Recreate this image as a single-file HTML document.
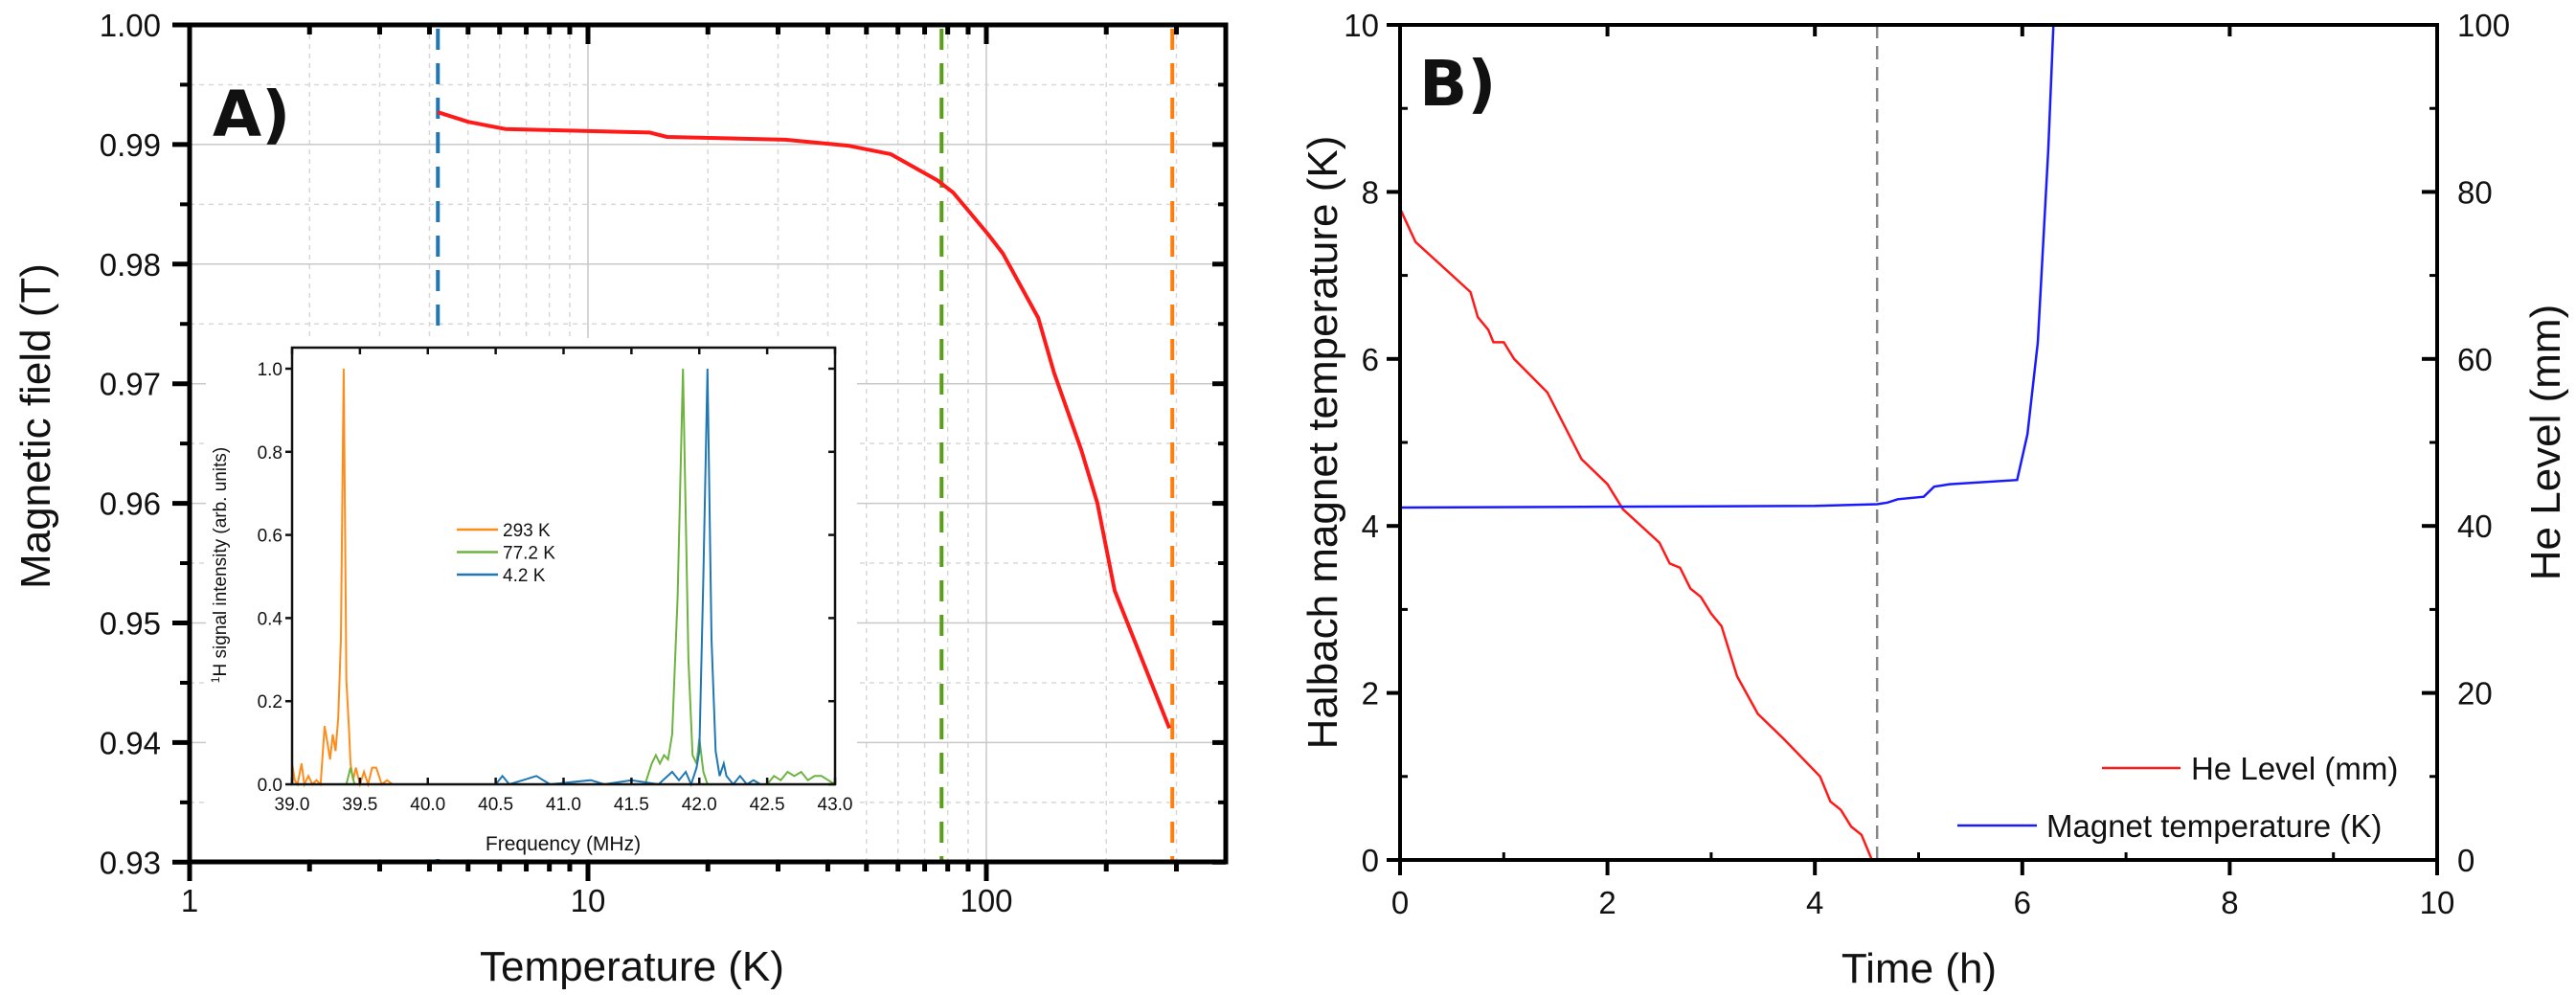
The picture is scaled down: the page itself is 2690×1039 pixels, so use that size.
<!DOCTYPE html>
<html><head><meta charset="utf-8"><style>
html,body{margin:0;padding:0;background:#fff}
svg{display:block}
text{font-family:"Liberation Sans",Arial,sans-serif;fill:#111}
</style></head><body>
<svg id="fig" width="2690" height="1039" viewBox="0 0 2690 1039" xmlns="http://www.w3.org/2000/svg">
<g id="pa"></g>
<g id="pb"></g>
</svg>
<script>
// ---------- Panel A data ----------
const aTemps = [4.2, 5, 6.2, 9.25, 14.3, 15.8, 31.3, 45, 57.5, 75.4, 82.5, 101, 110, 135, 148, 173, 190, 210, 288];
const aField = [0.9927, 0.9919, 0.9913, 0.99115, 0.9910, 0.99063, 0.9904, 0.9899, 0.9892, 0.9870, 0.9860, 0.9825, 0.9809, 0.9755, 0.9709, 0.9645, 0.9600, 0.9527, 0.9412];
const aMarkerTemps = [4.2, 77.2, 293];
const aMarkerColors = ['#1f77b4', '#5a9e1a', '#ff7f0e'];
const aYTicks = [1.00, 0.99, 0.98, 0.97, 0.96, 0.95, 0.94, 0.93];
const aYTickLabels = ['1.00', '0.99', '0.98', '0.97', '0.96', '0.95', '0.94', '0.93'];
const aXTicks = [1, 10, 100];
const aXTickLabels = ['1', '10', '100'];
// inset spectra
const insetXTicks = [39.0, 39.5, 40.0, 40.5, 41.0, 41.5, 42.0, 42.5, 43.0];
const insetYTicks = [0.0, 0.2, 0.4, 0.6, 0.8, 1.0];
const s293f = [39.0, 39.02, 39.04, 39.07, 39.09, 39.12, 39.15, 39.18, 39.21, 39.24, 39.26, 39.28, 39.3, 39.32, 39.34, 39.36, 39.38, 39.40, 39.42, 39.43, 39.45, 39.47, 39.5, 39.53, 39.56, 39.59, 39.62, 39.66, 39.7, 39.74];
const s293i = [0.05, 0.01, 0.0, 0.05, 0.0, 0.02, 0.0, 0.01, 0.0, 0.14, 0.10, 0.06, 0.12, 0.08, 0.16, 0.35, 1.0, 0.25, 0.13, 0.05, 0.01, 0.04, 0.0, 0.03, 0.0, 0.04, 0.04, 0.0, 0.01, 0.0];
const s77f = [39.4, 39.43, 39.46, 39.5, 41.6, 41.65, 41.68, 41.71, 41.74, 41.77, 41.8, 41.84, 41.88, 41.92, 41.95, 41.98, 42.0, 42.03, 42.06, 42.5, 42.55, 42.6, 42.65, 42.7, 42.75, 42.8, 42.85, 42.9, 42.95, 43.0];
const s77i = [0.0, 0.04, 0.0, 0.0, 0.0, 0.05, 0.07, 0.05, 0.07, 0.06, 0.12, 0.45, 1.0, 0.3, 0.07, 0.05, 0.11, 0.03, 0.0, 0.0, 0.02, 0.01, 0.03, 0.02, 0.03, 0.01, 0.02, 0.02, 0.01, 0.0];
const s42f = [40.5, 40.55, 40.6, 40.7, 40.8, 40.9, 41.2, 41.3, 41.5, 41.7, 41.8, 41.85, 41.9, 41.94, 41.98, 42.0, 42.03, 42.06, 42.09, 42.12, 42.15, 42.18, 42.2, 42.25, 42.3, 42.35, 42.4, 42.45, 42.5, 43.0];
const s42i = [0.0, 0.02, 0.0, 0.01, 0.02, 0.0, 0.01, 0.0, 0.01, 0.0, 0.03, 0.01, 0.03, 0.0, 0.04, 0.08, 0.5, 1.0, 0.35, 0.08, 0.02, 0.05, 0.02, 0.0, 0.02, 0.0, 0.01, 0.0, 0.0, 0.0];
const insetLegend = ['293 K', '77.2 K', '4.2 K'];
// ---------- Panel B data ----------
const heTime = [0, 0.15, 0.68, 0.75, 0.85, 0.9, 1.0, 1.1, 1.42, 1.75, 2.0, 2.15, 2.5, 2.6, 2.7, 2.8, 2.9, 3.0, 3.1, 3.25, 3.45, 3.7, 4.05, 4.15, 4.25, 4.35, 4.45, 4.55];
const heLevel = [78, 74, 68, 65, 63.5, 62, 62, 60, 56, 48, 45, 42, 38, 35.5, 35, 32.5, 31.5, 29.5, 28, 22, 17.5, 14.5, 10, 7, 6, 4, 3, 0];
const mtTime = [0, 2, 4, 4.6, 4.7, 4.8, 5.05, 5.15, 5.3, 5.95, 6.05, 6.15, 6.25, 6.3];
const mtTemp = [4.22, 4.23, 4.24, 4.26, 4.28, 4.32, 4.35, 4.47, 4.5, 4.55, 5.1, 6.2, 8.5, 10];
const bDashedTime = 4.6;
const bXTicks = [0, 2, 4, 6, 8, 10];
const bYTicks = [0, 2, 4, 6, 8, 10];
const bY2Ticks = [0, 20, 40, 60, 80, 100];

const NS = 'http://www.w3.org/2000/svg';
function mk(parent, tag, attrs, txt) {
  const e = document.createElementNS(NS, tag);
  for (const k in attrs) e.setAttribute(k, attrs[k]);
  if (txt !== undefined) e.textContent = txt;
  parent.appendChild(e);
  return e;
}
// ===== Panel A =====
const pa = document.getElementById('pa');
const AL = 198, AR = 1280, AT = 26, AB = 900;
const ax = t => AL + Math.log10(t) * 416;
const ay = b => AT + (1.0 - b) / 0.01 * 124.9;
for (let d = 1; d <= 100; d *= 10) {
  for (let m = 1; m <= 9; m++) {
    const v = d * m; const x = ax(v);
    if (x > AR) break;
    const g = mk(pa, 'line', {x1: x, x2: x, y1: AT, y2: AB, stroke: m === 1 ? '#c8c8c8' : '#d8d8d8', 'stroke-width': 1.5, 'stroke-dasharray': m === 1 ? '' : '5,5'});
    
    
  }
}
for (let i = 0; i < 14; i++) {
  const v = 1.0 - i * 0.005; const y = ay(v);
  const g = mk(pa, 'line', {x1: AL, x2: AR, y1: y, y2: y, stroke: i % 2 === 0 ? '#c8c8c8' : '#d8d8d8', 'stroke-width': 1.5, 'stroke-dasharray': i % 2 === 0 ? '' : '5,5'});
  
  
}
aMarkerTemps.forEach((t, i) => {
  const l = mk(pa, 'line', {x1: ax(t), x2: ax(t), y1: AT + 4, y2: AB, stroke: aMarkerColors[i], 'stroke-width': 4, 'stroke-dasharray': '22,14'});
  
  
});
const cp = aTemps.map((t, i) => ax(t).toFixed(1) + ',' + ay(aField[i]).toFixed(1)).join(' ');
const curve = mk(pa, 'polyline', {points: cp, fill: 'none', stroke: '#ff1a1a', 'stroke-width': 4, 'stroke-linejoin': 'round'});


// inset
const IL = 305, IR = 872, IT = 363, IB = 819;
const ix = f => IL + (f - 39) / 4 * (IR - IL);
const iy = v => IB - v * (IB - 385);
const inset = mk(pa, 'g', {});


mk(inset, 'rect', {x: 215, y: 353, width: 680, height: 544, fill: '#fff'});
[[s293f, s293i, '#ff8c1a', 'spectrum-293k'], [s77f, s77i, '#6db33f', 'spectrum-77k'], [s42f, s42i, '#1f77b4', 'spectrum-4k']].forEach(s => {
  const p = s[0].map((f, i) => ix(f).toFixed(1) + ',' + iy(s[1][i]).toFixed(1)).join(' ');
  const pl = mk(inset, 'polyline', {points: p, fill: 'none', stroke: s[2], 'stroke-width': 2});
  
  
});
mk(inset, 'rect', {x: IL, y: IT, width: IR - IL, height: IB - IT, fill: 'none', stroke: '#111', 'stroke-width': 2.5});
insetXTicks.forEach(f => {
  mk(inset, 'line', {x1: ix(f), x2: ix(f), y1: IB, y2: IB - 7, stroke: '#111', 'stroke-width': 2.5});
  mk(inset, 'line', {x1: ix(f), x2: ix(f), y1: IT, y2: IT + 7, stroke: '#111', 'stroke-width': 2.5});
  const t = mk(inset, 'text', {x: ix(f), y: IB + 27, 'font-size': 19, 'text-anchor': 'middle'}, f.toFixed(1));
  
  
});
insetYTicks.forEach(v => {
  mk(inset, 'line', {x1: IL - 7, x2: IL, y1: iy(v), y2: iy(v), stroke: '#111', 'stroke-width': 2.5});
  mk(inset, 'line', {x1: IR, x2: IR - 7, y1: iy(v), y2: iy(v), stroke: '#111', 'stroke-width': 2.5});
  const t = mk(inset, 'text', {x: IL - 10, y: iy(v) + 7, 'font-size': 19, 'text-anchor': 'end'}, v.toFixed(1));
  
  
});
const ixt = mk(inset, 'text', {x: 588, y: 888, 'font-size': 21, 'text-anchor': 'middle'}, 'Frequency (MHz)');


const iyt = mk(inset, 'text', {x: 0, y: 0, 'font-size': 19, 'text-anchor': 'middle', transform: 'translate(236,590) rotate(-90)'});


mk(iyt, 'tspan', {'font-size': 12, dy: -7}, '1');
mk(iyt, 'tspan', {dy: 7}, 'H signal intensity (arb. units)');
['#ff8c1a', '#6db33f', '#1f77b4'].forEach((c, i) => {
  const y = 553 + i * 23.5;
  const ll = mk(inset, 'line', {x1: 477, x2: 520, y1: y, y2: y, stroke: c, 'stroke-width': 2.5});
  
  
  const lt = mk(inset, 'text', {x: 525, y: y + 7, 'font-size': 19}, insetLegend[i]);
  
  
});
const fa = mk(pa, 'rect', {x: AL, y: AT, width: AR - AL, height: AB - AT, fill: 'none', stroke: '#000', 'stroke-width': 5});


aYTicks.forEach((v, i) => {
  mk(pa, 'line', {x1: AL - 18, x2: AL, y1: ay(v), y2: ay(v), stroke: '#000', 'stroke-width': 5});
  mk(pa, 'line', {x1: AR, x2: AR - 14, y1: ay(v), y2: ay(v), stroke: '#000', 'stroke-width': 5});
  if (i < 7) {
    mk(pa, 'line', {x1: AL - 10, x2: AL, y1: ay(v - 0.005), y2: ay(v - 0.005), stroke: '#000', 'stroke-width': 4});
    mk(pa, 'line', {x1: AR, x2: AR - 8, y1: ay(v - 0.005), y2: ay(v - 0.005), stroke: '#000', 'stroke-width': 4});
  }
  const t = mk(pa, 'text', {x: 168, y: ay(v) + 12, 'font-size': 33, 'text-anchor': 'end'}, aYTickLabels[i]);
  
  
});
for (let d = 1; d <= 100; d *= 10) {
  for (let m = 1; m <= 9; m++) {
    const x = ax(d * m); if (x > AR) break;
    const len = m === 1 ? 20 : 10;
    mk(pa, 'line', {x1: x, x2: x, y1: AB, y2: AB + len, stroke: '#000', 'stroke-width': 5});
    mk(pa, 'line', {x1: x, x2: x, y1: AT, y2: AT + len, stroke: '#000', 'stroke-width': 5});
  }
}
aXTicks.forEach((v, i) => {
  const t = mk(pa, 'text', {x: ax(v), y: 952, 'font-size': 33, 'text-anchor': 'middle'}, aXTickLabels[i]);
  
  
});
const axt = mk(pa, 'text', {x: 660, y: 1024, 'font-size': 44, 'text-anchor': 'middle'}, 'Temperature (K)');


const ayt = mk(pa, 'text', {x: 0, y: 0, 'font-size': 44, 'text-anchor': 'middle', transform: 'translate(52,445) rotate(-90)'}, 'Magnetic field (T)');


const la = mk(pa, 'text', {x: 222, y: 142, 'font-size': 66, 'font-weight': 'bold', style: 'font-family:"DejaVu Sans",sans-serif'}, 'A)');



// ===== Panel B =====
const pb = document.getElementById('pb');
const BL = 1462, BR = 2545, BT = 26, BB = 898;
const bx = t => BL + t / 10 * (BR - BL);
const by = v => BB - v / 10 * (BB - BT);
const by2 = v => BB - v / 100 * (BB - BT);
const dl = mk(pb, 'line', {x1: bx(bDashedTime), x2: bx(bDashedTime), y1: BT, y2: BB, stroke: '#888', 'stroke-width': 2.5, 'stroke-dasharray': '14,8'});


const hp = heTime.map((t, i) => bx(t).toFixed(1) + ',' + by2(heLevel[i]).toFixed(1)).join(' ');
const hl = mk(pb, 'polyline', {points: hp, fill: 'none', stroke: '#ff1a1a', 'stroke-width': 2.5});


const mp = mtTime.map((t, i) => bx(t).toFixed(1) + ',' + by(mtTemp[i]).toFixed(1)).join(' ');
const ml = mk(pb, 'polyline', {points: mp, fill: 'none', stroke: '#1a1aff', 'stroke-width': 2.5});


const fb = mk(pb, 'rect', {x: BL, y: BT, width: BR - BL, height: BB - BT, fill: 'none', stroke: '#000', 'stroke-width': 4});


bXTicks.forEach(v => {
  mk(pb, 'line', {x1: bx(v), x2: bx(v), y1: BB, y2: BB + 16, stroke: '#000', 'stroke-width': 4});
  if (v < 10) mk(pb, 'line', {x1: bx(v + 1), x2: bx(v + 1), y1: BB, y2: BB - 8, stroke: '#000', 'stroke-width': 3});
  mk(pb, 'line', {x1: bx(v), x2: bx(v), y1: BT, y2: BT + 12, stroke: '#000', 'stroke-width': 4});
  const t = mk(pb, 'text', {x: bx(v), y: 954, 'font-size': 33, 'text-anchor': 'middle'}, String(v));
  
  
});
bYTicks.forEach((v, i) => {
  mk(pb, 'line', {x1: BL - 14, x2: BL, y1: by(v), y2: by(v), stroke: '#000', 'stroke-width': 4});
  if (v < 10) mk(pb, 'line', {x1: BL, x2: BL + 8, y1: by(v + 1), y2: by(v + 1), stroke: '#000', 'stroke-width': 3});
  const t = mk(pb, 'text', {x: 1440, y: by(v) + 12, 'font-size': 33, 'text-anchor': 'end'}, String(v));
  
  
  const v2 = bY2Ticks[i];
  mk(pb, 'line', {x1: BR - 16, x2: BR, y1: by2(v2), y2: by2(v2), stroke: '#000', 'stroke-width': 4});
  if (v2 < 100) mk(pb, 'line', {x1: BR - 8, x2: BR, y1: by2(v2 + 10), y2: by2(v2 + 10), stroke: '#000', 'stroke-width': 3});
  const t2 = mk(pb, 'text', {x: 2566, y: by2(v2) + 12, 'font-size': 33}, String(v2));
  
  
});
const bxt = mk(pb, 'text', {x: 2004, y: 1026, 'font-size': 44, 'text-anchor': 'middle'}, 'Time (h)');


const byt = mk(pb, 'text', {x: 0, y: 0, 'font-size': 44, 'text-anchor': 'middle', transform: 'translate(1396,462) rotate(-90)'}, 'Halbach magnet temperature (K)');


const by2t = mk(pb, 'text', {x: 0, y: 0, 'font-size': 44, 'text-anchor': 'middle', transform: 'translate(2673,462) rotate(-90)'}, 'He Level (mm)');


const lb = mk(pb, 'text', {x: 1482, y: 110, 'font-size': 66, 'font-weight': 'bold', style: 'font-family:"DejaVu Sans",sans-serif'}, 'B)');


const lg1 = mk(pb, 'line', {x1: 2195, x2: 2277, y1: 802, y2: 802, stroke: '#ff1a1a', 'stroke-width': 2.5});


const lt1 = mk(pb, 'text', {x: 2288, y: 814, 'font-size': 33}, 'He Level (mm)');


const lg2 = mk(pb, 'line', {x1: 2044, x2: 2127, y1: 862, y2: 862, stroke: '#1a1aff', 'stroke-width': 2.5});


const lt2 = mk(pb, 'text', {x: 2137, y: 874, 'font-size': 33}, 'Magnet temperature (K)');


</script>
</body></html>
